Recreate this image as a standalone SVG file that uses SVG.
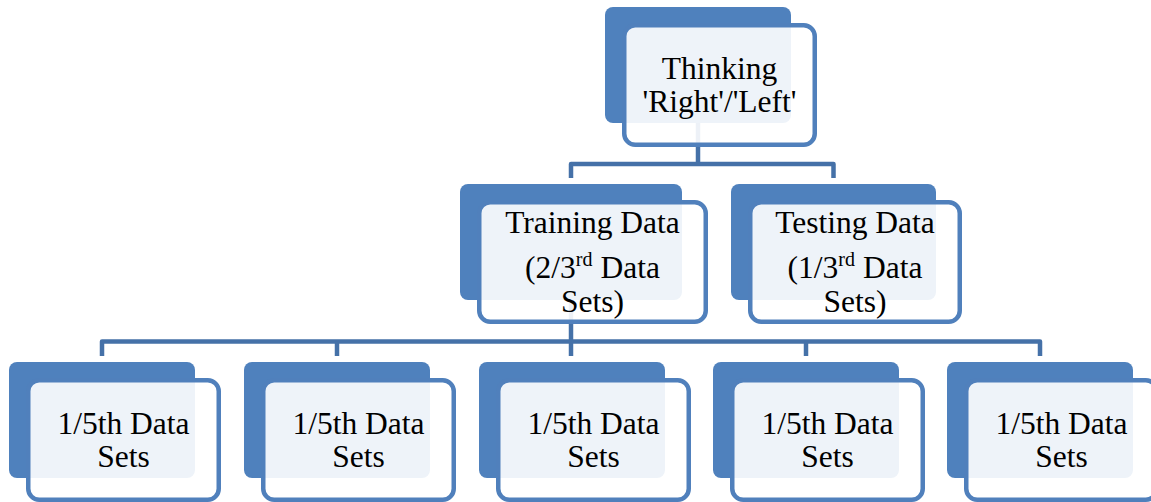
<svg xmlns="http://www.w3.org/2000/svg" width="1151" height="502" viewBox="0 0 1151 502">
  <style>
    .back { fill: #4F81BD; }
    .front { fill: #FFFFFF; fill-opacity: 0.9; stroke: #5080BC; stroke-width: 4.5; }
    .conn { fill: none; stroke: #4571A8; stroke-width: 4.5; stroke-linejoin: round; }
    .lbl { font-family: "Liberation Serif", "Times New Roman", serif; font-size: 31.5px; fill: #000000; text-anchor: middle; }
    .sup { font-size: 20px; }
  </style>
  <rect width="1151" height="502" fill="#FFFFFF"/>

  <!-- connectors (drawn first so the card fills sit over them) -->
  <g id="connectors">
    <path class="conn" d="M698 123 V164"/>
    <path class="conn" d="M571 178 V164 H833.5 V178"/>
    <path class="conn" d="M571 300 V356"/>
    <path class="conn" d="M102 356 V341.5 H1040 V356"/>
    <path class="conn" d="M337 341.5 V356"/>
    <path class="conn" d="M806 341.5 V356"/>
  </g>

  <g id="node-thinking">
    <rect class="back" x="605" y="7" width="186" height="116" rx="8"/>
    <rect class="front" x="624.25" y="25.25" width="190.5" height="119.5" rx="11"/>
    <text class="lbl" x="719.5" y="79">Thinking</text>
    <text class="lbl" x="719.5" y="112">'Right'/'Left'</text>
  </g>

  <g id="node-training">
    <rect class="back" x="460" y="184" width="222" height="116" rx="8"/>
    <rect class="front" x="479.25" y="202.25" width="226.5" height="119.5" rx="11"/>
    <text class="lbl" x="592.5" y="233">Training Data</text>
    <text class="lbl" x="592.5" y="278">(2/3<tspan class="sup" dy="-12">rd</tspan><tspan dy="12"> Data</tspan></text>
    <text class="lbl" x="592.5" y="312">Sets)</text>
  </g>

  <g id="node-testing">
    <rect class="back" x="731" y="184" width="205" height="116" rx="8"/>
    <rect class="front" x="750.25" y="202.25" width="209.5" height="119.5" rx="11"/>
    <text class="lbl" x="855" y="233">Testing Data</text>
    <text class="lbl" x="855" y="278">(1/3<tspan class="sup" dy="-12">rd</tspan><tspan dy="12"> Data</tspan></text>
    <text class="lbl" x="855" y="312">Sets)</text>
  </g>

  <g id="node-fold-1">
    <rect class="back" x="9" y="362" width="186" height="116" rx="8"/>
    <rect class="front" x="28.25" y="380.25" width="190.5" height="119.5" rx="11"/>
    <text class="lbl" x="123.5" y="434">1/5th Data</text>
    <text class="lbl" x="123.5" y="467">Sets</text>
  </g>

  <g id="node-fold-2">
    <rect class="back" x="244" y="362" width="186" height="116" rx="8"/>
    <rect class="front" x="263.25" y="380.25" width="190.5" height="119.5" rx="11"/>
    <text class="lbl" x="358.5" y="434">1/5th Data</text>
    <text class="lbl" x="358.5" y="467">Sets</text>
  </g>

  <g id="node-fold-3">
    <rect class="back" x="479" y="362" width="186" height="116" rx="8"/>
    <rect class="front" x="498.25" y="380.25" width="190.5" height="119.5" rx="11"/>
    <text class="lbl" x="593.5" y="434">1/5th Data</text>
    <text class="lbl" x="593.5" y="467">Sets</text>
  </g>

  <g id="node-fold-4">
    <rect class="back" x="713" y="362" width="186" height="116" rx="8"/>
    <rect class="front" x="732.25" y="380.25" width="190.5" height="119.5" rx="11"/>
    <text class="lbl" x="827.5" y="434">1/5th Data</text>
    <text class="lbl" x="827.5" y="467">Sets</text>
  </g>

  <g id="node-fold-5">
    <rect class="back" x="947" y="362" width="186" height="116" rx="8"/>
    <rect class="front" x="966.25" y="380.25" width="190.5" height="119.5" rx="11"/>
    <text class="lbl" x="1061.5" y="434">1/5th Data</text>
    <text class="lbl" x="1061.5" y="467">Sets</text>
  </g>
</svg>
